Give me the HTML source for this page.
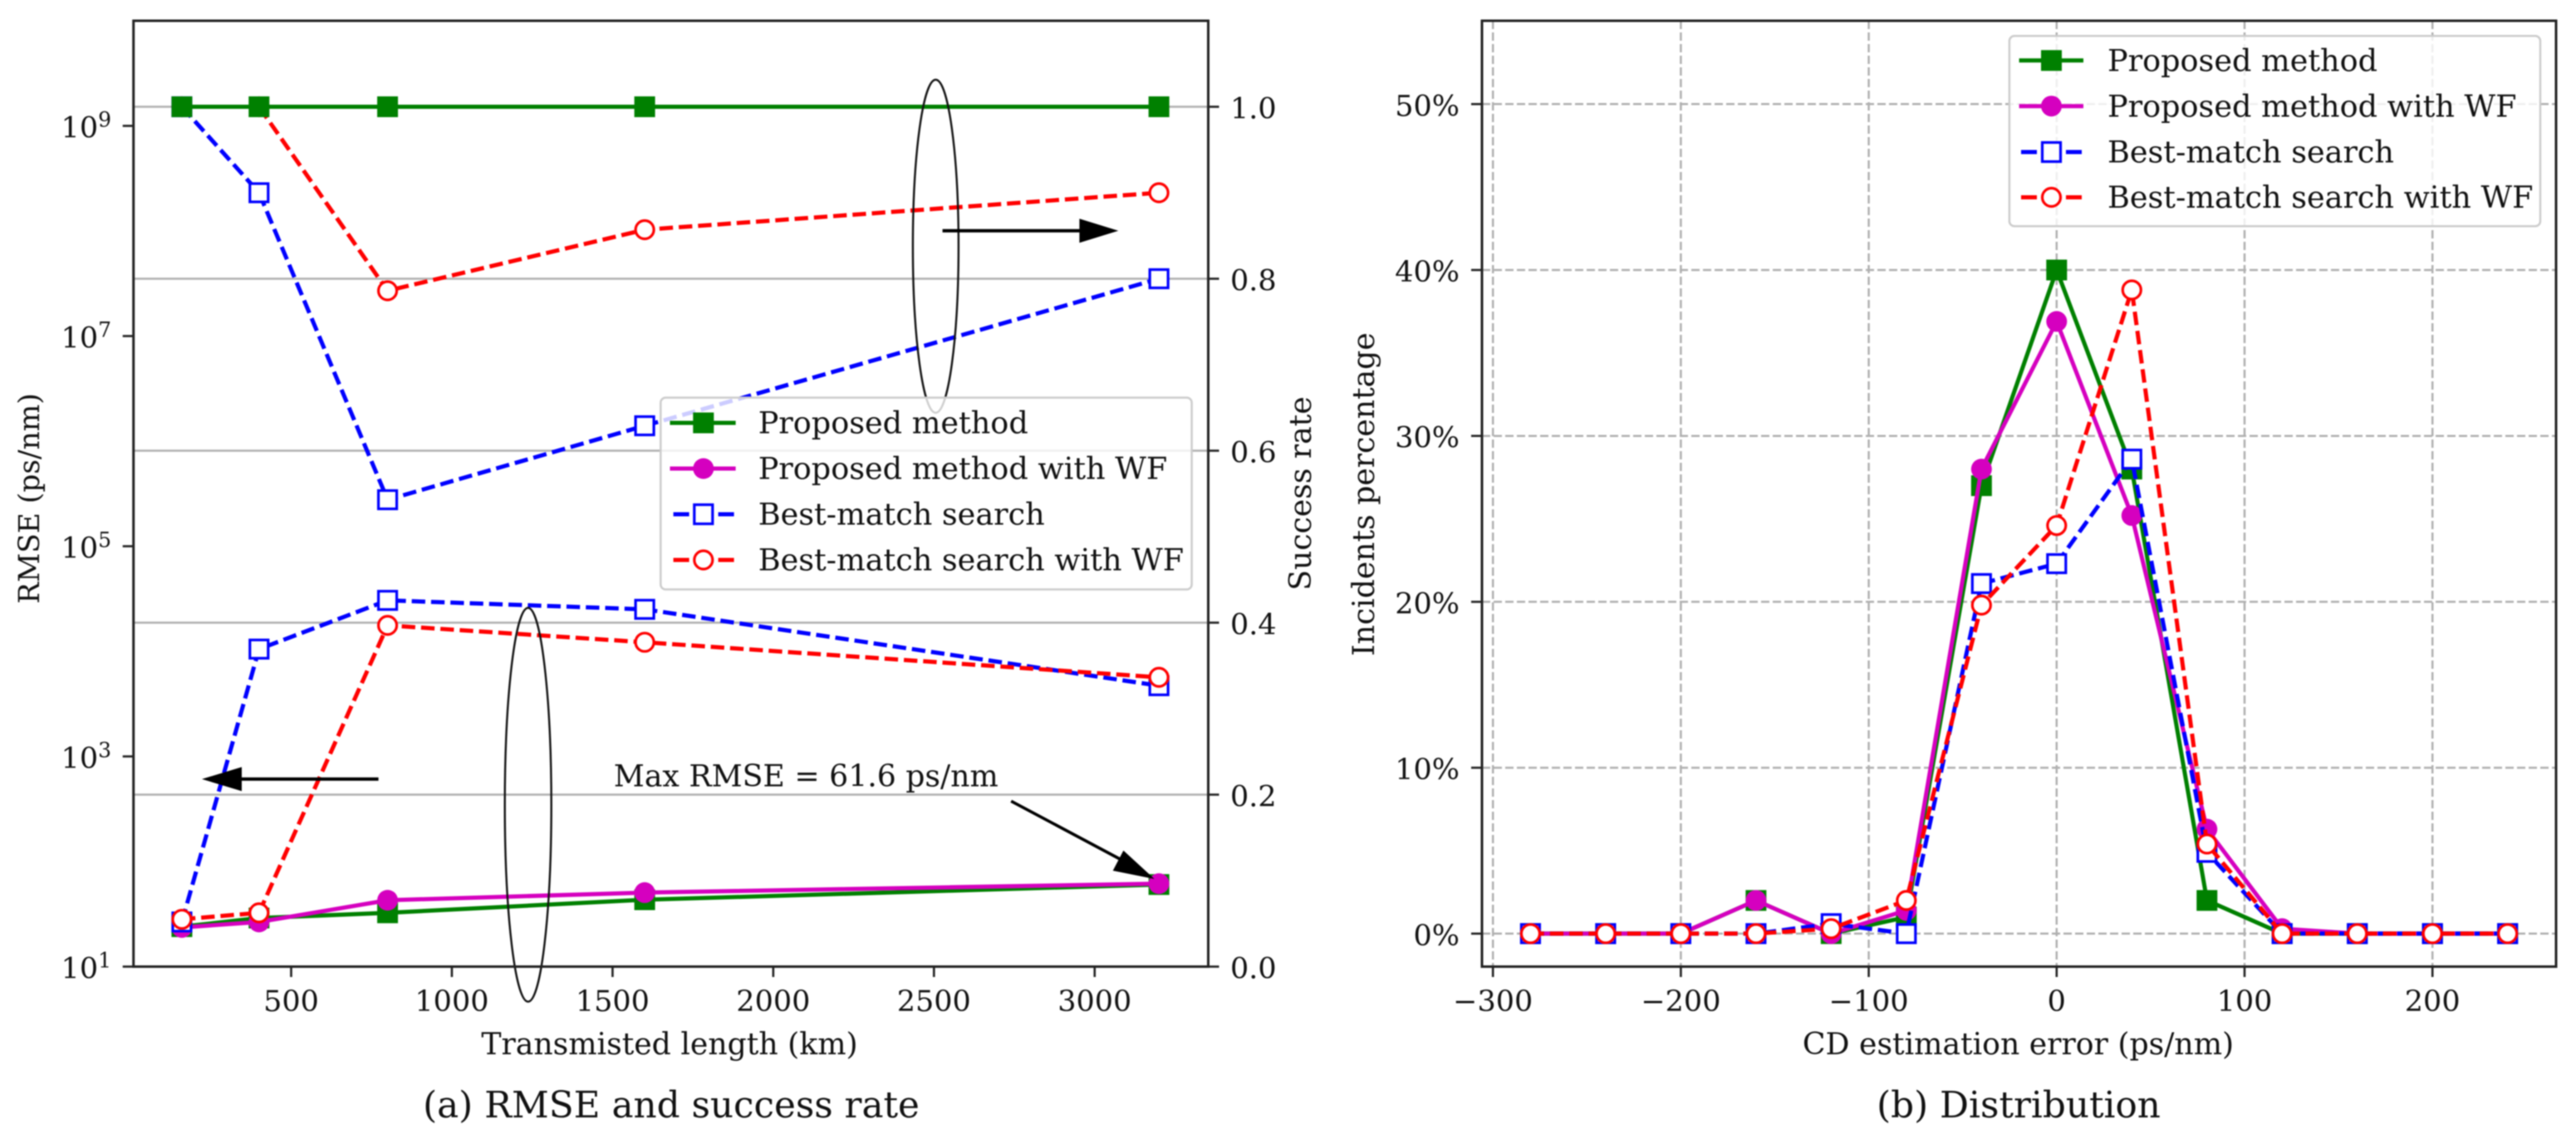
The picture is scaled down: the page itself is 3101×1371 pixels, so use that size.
<!DOCTYPE html>
<html lang="en">
<head>
<meta charset="utf-8">
<title>RMSE, success rate and error distribution</title>
<style>
html,body{margin:0;padding:0;background:#fff;width:3101px;height:1371px;overflow:hidden}
svg{display:block;filter:blur(.7px)}
text{font-family:"DejaVu Serif","Liberation Serif",serif;fill:#111;font-size:35px}
.cap{font-size:43.7px}
.axl{font-size:36.2px}
.rmse{font-size:34.4px}
.leg{font-size:36.6px;fill:#111}
</style>
</head>
<body>
<svg id="figure" xmlns="http://www.w3.org/2000/svg" width="3101" height="1371" viewBox="0 0 3101 1371">
  <rect x="0" y="0" width="3101" height="1371" fill="#fff"/>

  <g id="panelA">
    <g id="gridA"></g>
    <g id="seriesA"></g>
    <g>
      <ellipse cx="1126.4" cy="296.4" rx="27.5" ry="200.5" fill="none" stroke="#111" stroke-width="2.4"/>
      <ellipse cx="635.7" cy="968.7" rx="28" ry="237" fill="none" stroke="#111" stroke-width="2.4"/>
      <g>
        <line x1="455.6" y1="937.8" x2="285" y2="937.8" stroke="#000" stroke-width="4"/>
        <polygon points="243,937.8 291,923.3 291,952.3" fill="#000"/>
      </g>
      <g>
        <line x1="1134.6" y1="277.7" x2="1305" y2="277.7" stroke="#000" stroke-width="4"/>
        <polygon points="1346.3,277.7 1299.4,263.2 1299.4,292.2" fill="#000"/>
      </g>
      <g>
        <line x1="1217.2" y1="964.3" x2="1350" y2="1035" stroke="#000" stroke-width="3.6"/>
        <polygon points="1389.7,1058 1352.4,1023.8 1339.7,1048" fill="#000"/>
      </g>
      <text class="axl" x="738.8" y="946.6">Max RMSE = 61.6 ps/nm</text>
    </g>
    <g>
      <rect x="795.3" y="478.6" width="639.3" height="230.9" rx="6" fill="#fff" fill-opacity=".8" stroke="#ccc" stroke-width="2.5"/>
      <g>
        <line x1="806.5" y1="509" x2="885.6" y2="509" stroke="#008000" stroke-width="5"/>
        <rect x="834.3" y="496.5" width="25" height="25" fill="#008000"/>
        <text class="leg" x="912.7" y="521.5">Proposed method</text>
      </g>
      <g>
        <line x1="806.5" y1="564" x2="885.6" y2="564" stroke="#d500bf" stroke-width="5"/>
        <circle cx="846.8" cy="564" r="12.5" fill="#d500bf"/>
        <text class="leg" x="912.7" y="576.5">Proposed method with WF</text>
      </g>
      <g>
        <line x1="810.6" y1="619" x2="883.6" y2="619" stroke="#00f" stroke-width="5" stroke-dasharray="19 35 19"/>
        <rect x="835.8" y="607.5" width="22" height="23" fill="#fff" stroke="#00f" stroke-width="3.2"/>
        <text class="leg" x="912.7" y="631.5">Best-match search</text>
      </g>
      <g>
        <line x1="810.6" y1="674" x2="883.6" y2="674" stroke="#f00" stroke-width="5" stroke-dasharray="19 35 19"/>
        <circle cx="846.8" cy="674" r="11" fill="#fff" stroke="#f00" stroke-width="3.2"/>
        <text class="leg" x="912.7" y="686.5">Best-match search with WF</text>
      </g>
    </g>
    <rect x="160.7" y="25" width="1293.8" height="1138.5" fill="none" stroke="#222" stroke-width="3"/>
    <g id="ticksA"></g>
    <text class="axl" x="806" y="1269" text-anchor="middle">Transmisted length (km)</text>
    <text class="rmse" transform="translate(47 600) rotate(-90)" text-anchor="middle">RMSE (ps/nm)</text>
    <text class="axl" transform="translate(1578 594) rotate(-90)" text-anchor="middle">Success rate</text>
    <text class="cap" x="808" y="1345" text-anchor="middle">(a) RMSE and success rate</text>
  </g>

  <g id="panelB">
    <g id="gridB"></g>
    <g id="seriesB"></g>
    <g>
      <rect x="2418.9" y="43.3" width="639.1" height="229" rx="6" fill="#fff" fill-opacity=".8" stroke="#ccc" stroke-width="2.5"/>
      <g>
        <line x1="2430.6" y1="72.8" x2="2508" y2="72.8" stroke="#008000" stroke-width="5"/>
        <rect x="2457" y="60.3" width="25" height="25" fill="#008000"/>
        <text class="leg" x="2537" y="85.5">Proposed method</text>
      </g>
      <g>
        <line x1="2430.6" y1="127.7" x2="2508" y2="127.7" stroke="#d500bf" stroke-width="5"/>
        <circle cx="2469.5" cy="127.7" r="12.5" fill="#d500bf"/>
        <text class="leg" x="2537" y="140.5">Proposed method with WF</text>
      </g>
      <g>
        <line x1="2433" y1="183" x2="2506" y2="183" stroke="#00f" stroke-width="5" stroke-dasharray="19 35 19"/>
        <rect x="2458.5" y="171.5" width="22" height="23" fill="#fff" stroke="#00f" stroke-width="3.2"/>
        <text class="leg" x="2537" y="195.5">Best-match search</text>
      </g>
      <g>
        <line x1="2433" y1="237.5" x2="2506" y2="237.5" stroke="#f00" stroke-width="5" stroke-dasharray="19 35 19"/>
        <circle cx="2469.5" cy="237.5" r="11" fill="#fff" stroke="#f00" stroke-width="3.2"/>
        <text class="leg" x="2537" y="250">Best-match search with WF</text>
      </g>
    </g>
    <rect x="1784" y="25" width="1293" height="1138.5" fill="none" stroke="#222" stroke-width="3"/>
    <g id="ticksB"></g>
    <text class="axl" x="2429.5" y="1269" text-anchor="middle">CD estimation error (ps/nm)</text>
    <text class="axl" transform="translate(1654 595) rotate(-90)" text-anchor="middle">Incidents percentage</text>
    <text class="cap" x="2430" y="1345" text-anchor="middle">(b) Distribution</text>
  </g>
</svg>

<script>
// ---- Panel (a) data ----
const lengths = [160, 400, 800, 1600, 3200];
const rmseProposed = [24, 29, 32.5, 43.3, 60.4];
const rmseProposedWF = [23.6, 26.6, 42.8, 50.6, 61.6];
const rmseBestMatch = [26.6, 10500, 30550, 25100, 4710];
const rmseBestMatchWF = [28.2, 32.5, 17660, 12200, 5660];
const rateProposed = [1, 1, 1, 1, 1];
const rateProposedWF = [1, 1, 1, 1, 1];
const rateBestMatch = [1, 0.9, 0.543, 0.629, 0.8];
const rateBestMatchWF = [1, 1, 0.786, 0.857, 0.9];
const lengthTicks = [500, 1000, 1500, 2000, 2500, 3000];
const rmseTickExponents = [1, 3, 5, 7, 9];
const rateTicks = [0, 0.2, 0.4, 0.6, 0.8, 1];
const rateTickLabels = ['0.0', '0.2', '0.4', '0.6', '0.8', '1.0'];

// ---- Panel (b) data ----
const errors = [-280, -240, -200, -160, -120, -80, -40, 0, 40, 80, 120, 160, 200, 240];
const distProposed = [0, 0, 0, 2, 0, 1, 27, 40, 28, 2, 0, 0, 0, 0];
const distProposedWF = [0, 0, 0, 2, 0, 1.4, 28, 36.9, 25.2, 6.3, 0.3, 0, 0, 0];
const distBestMatch = [0, 0, 0, 0, 0.6, 0, 21.1, 22.3, 28.6, 4.9, 0, 0, 0, 0];
const distBestMatchWF = [0, 0, 0, 0, 0.3, 2, 19.8, 24.6, 38.8, 5.4, 0, 0, 0, 0];
const errorTicks = [-300, -200, -100, 0, 100, 200];
const errorTickLabels = ['\u2212300', '\u2212200', '\u2212100', '0', '100', '200'];
const percentTicks = [0, 10, 20, 30, 40, 50];
const percentTickLabels = ['0%', '10%', '20%', '30%', '40%', '50%'];

// ---- Axis functions ----
const xA = v => 350.5 + (v - 500) * 0.38690;
const yRmse = v => 1163.5 - (Math.log10(v) - 1) * 126.5;
const yRate = v => 1163.5 - v * 1035;
const xB = v => 2475.8 + v * 2.2620;
const yB = v => 1123.8 - v * 19.97;

const NS = 'http://www.w3.org/2000/svg';
function mk(tag, attrs, parent) {
  const el = document.createElementNS(NS, tag);
  for (const k in attrs) el.setAttribute(k, attrs[k]);
  parent.appendChild(el);
  return el;
}

const styles = {
  proposed:   {color: '#008000', dash: null,     marker: 'fsquare'},
  proposedWF: {color: '#d500bf', dash: null,     marker: 'fcircle'},
  bestMatch:  {color: '#0000ff', dash: '16.3 7', marker: 'osquare'},
  bestMatchWF:{color: '#ff0000', dash: '16.3 7', marker: 'ocircle'}
};

function drawSeries(parent, name, xs, ys, xFn, yFn, style) {
  const g = mk('g', {}, parent);
  
  
  const pts = xs.map((x, i) => xFn(x).toFixed(2) + ',' + yFn(ys[i]).toFixed(2)).join(' ');
  const attrs = {points: pts, fill: 'none', stroke: style.color, 'stroke-width': 5, 'stroke-linejoin': 'round'};
  if (style.dash) attrs['stroke-dasharray'] = style.dash;
  const line = mk('polyline', attrs, g);
  
  
  xs.forEach((x, i) => {
    const cx = xFn(x), cy = yFn(ys[i]);
    let m;
    if (style.marker === 'fsquare') m = mk('rect', {x: cx - 12.5, y: cy - 12.5, width: 25, height: 25, fill: style.color}, g);
    if (style.marker === 'fcircle') m = mk('circle', {cx: cx, cy: cy, r: 12.5, fill: style.color}, g);
    if (style.marker === 'osquare') m = mk('rect', {x: cx - 11, y: cy - 11, width: 22, height: 22, fill: '#fff', stroke: style.color, 'stroke-width': 3.2}, g);
    if (style.marker === 'ocircle') m = mk('circle', {cx: cx, cy: cy, r: 11, fill: '#fff', stroke: style.color, 'stroke-width': 3.2}, g);
    
    
  });
}

function tick(parent, name, x1, y1, x2, y2) {
  const l = mk('line', {x1: x1, y1: y1, x2: x2, y2: y2, stroke: '#222', 'stroke-width': 2.6}, parent);
  
  
}
function label(parent, name, x, y, anchor, str) {
  const t = mk('text', {x: x, y: y, 'text-anchor': anchor}, parent);
  
  
  t.textContent = str;
  return t;
}

// ---- Panel (a) ----
const gridA = document.getElementById('gridA');
const seriesA = document.getElementById('seriesA');
const ticksA = document.getElementById('ticksA');

rateTicks.forEach(v => {
  const l = mk('line', {x1: 160.7, x2: 1454.5, y1: yRate(v), y2: yRate(v), stroke: '#b0b0b0', 'stroke-width': 2.5}, gridA);
  
  
});

drawSeries(seriesA, 'rate-best-match-wf', lengths, rateBestMatchWF, xA, yRate, styles.bestMatchWF);
drawSeries(seriesA, 'rate-best-match', lengths, rateBestMatch, xA, yRate, styles.bestMatch);
drawSeries(seriesA, 'rate-proposed-wf', lengths, rateProposedWF, xA, yRate, styles.proposedWF);
drawSeries(seriesA, 'rate-proposed', lengths, rateProposed, xA, yRate, styles.proposed);
drawSeries(seriesA, 'rmse-proposed', lengths, rmseProposed, xA, yRmse, styles.proposed);
drawSeries(seriesA, 'rmse-proposed-wf', lengths, rmseProposedWF, xA, yRmse, styles.proposedWF);
drawSeries(seriesA, 'rmse-best-match', lengths, rmseBestMatch, xA, yRmse, styles.bestMatch);
drawSeries(seriesA, 'rmse-best-match-wf', lengths, rmseBestMatchWF, xA, yRmse, styles.bestMatchWF);

lengthTicks.forEach(v => {
  tick(ticksA, 'x-tick-a', xA(v), 1163.5, xA(v), 1176);
  label(ticksA, 'x-tick-label-a', xA(v), 1217, 'middle', String(v));
});
rateTicks.forEach((v, i) => {
  tick(ticksA, 'success-rate-tick', 1454.5, yRate(v), 1467.5, yRate(v));
  label(ticksA, 'success-rate-tick-label', 1481, yRate(v) + 14, 'start', rateTickLabels[i]);
});
rmseTickExponents.forEach(e => {
  const y = yRmse(Math.pow(10, e));
  tick(ticksA, 'rmse-tick', 147.7, y, 160.7, y);
  const t = label(ticksA, 'rmse-tick-label', 134, y + 14, 'end', '10');
  const s = mk('tspan', {dy: -13, 'font-size': 25}, t);
  
  
  s.textContent = String(e);
});

// ---- Panel (b) ----
const gridB = document.getElementById('gridB');
const seriesB = document.getElementById('seriesB');
const ticksB = document.getElementById('ticksB');

errorTicks.forEach(v => {
  const l = mk('line', {x1: xB(v), x2: xB(v), y1: 25, y2: 1163.5, stroke: '#b0b0b0', 'stroke-width': 2.5, 'stroke-dasharray': '10 4'}, gridB);
  
  
});
percentTicks.forEach(v => {
  const l = mk('line', {x1: 1784, x2: 3077, y1: yB(v), y2: yB(v), stroke: '#b0b0b0', 'stroke-width': 2.5, 'stroke-dasharray': '10 4'}, gridB);
  
  
});

drawSeries(seriesB, 'dist-proposed', errors, distProposed, xB, yB, styles.proposed);
drawSeries(seriesB, 'dist-proposed-wf', errors, distProposedWF, xB, yB, styles.proposedWF);
drawSeries(seriesB, 'dist-best-match', errors, distBestMatch, xB, yB, styles.bestMatch);
drawSeries(seriesB, 'dist-best-match-wf', errors, distBestMatchWF, xB, yB, styles.bestMatchWF);

errorTicks.forEach((v, i) => {
  tick(ticksB, 'x-tick-b', xB(v), 1163.5, xB(v), 1176);
  label(ticksB, 'x-tick-label-b', xB(v), 1217, 'middle', errorTickLabels[i]);
});
percentTicks.forEach((v, i) => {
  tick(ticksB, 'y-tick-b', 1771, yB(v), 1784, yB(v));
  label(ticksB, 'y-tick-label-b', 1757, yB(v) + 14, 'end', percentTickLabels[i]);
});
</script>
</body>
</html>
